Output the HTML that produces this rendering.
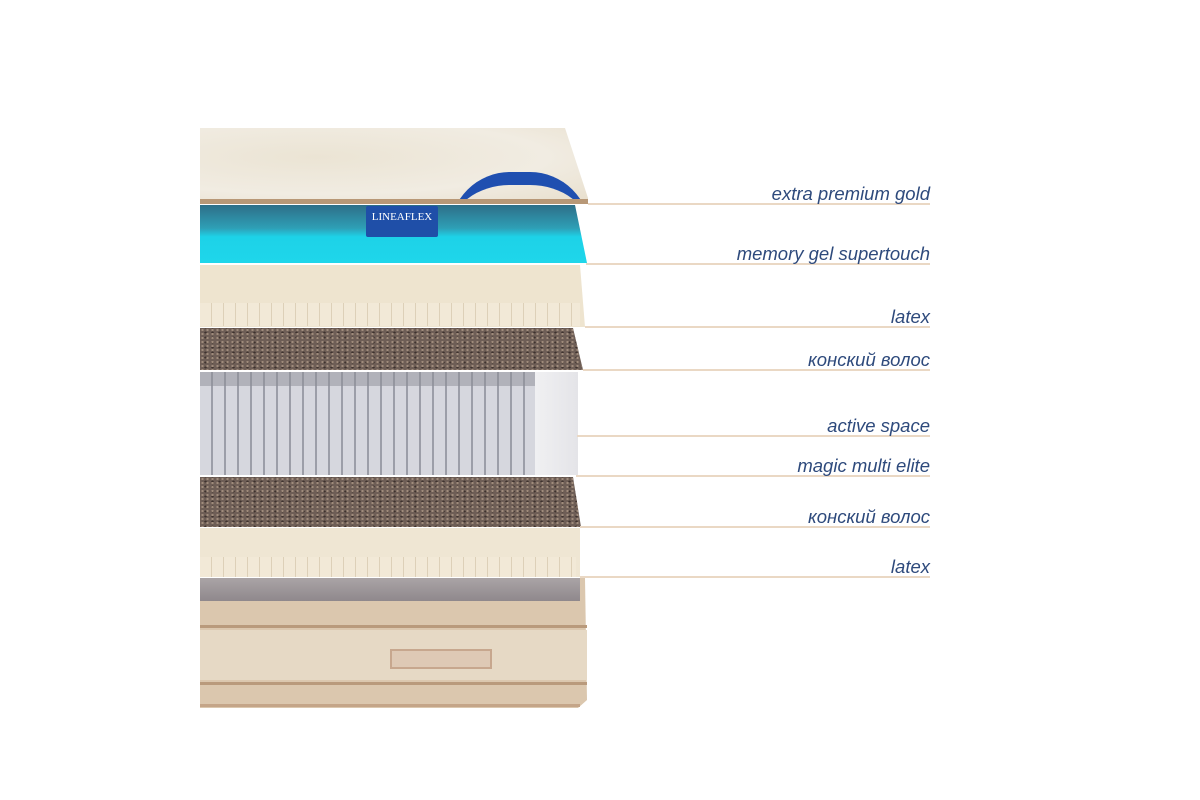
<!DOCTYPE html>
<html><head><meta charset="utf-8"><style>
*{margin:0;padding:0;box-sizing:border-box}
body{width:1200px;height:800px;background:#fff;position:relative;overflow:hidden;font-family:"Liberation Sans",sans-serif}
.a{position:absolute}
.ln{position:absolute;height:2px;background:#ead8c4;right:270px}
.lb{position:absolute;right:270px;font-style:italic;font-size:18.5px;color:#2e4a7c;white-space:nowrap;line-height:20px}
.hair{background-color:#6e5e56;background-image:radial-gradient(#a08c7c 1px,transparent 1.5px),radial-gradient(#3e322e 1px,transparent 1.5px);background-size:5px 4px,7px 5px;background-position:0 0,2px 2px}
.ribs{background:repeating-linear-gradient(90deg,#f2e9d7 0 11px,#ddd0b8 11px 12px)}
</style></head><body>
<!-- top quilt -->
<div class="a" style="left:200px;top:128px;width:388px;height:73px;background:radial-gradient(ellipse at 30% 40%,#ebe4d4,#f1ece2 60%,#e8dfcd);clip-path:polygon(0 0,365px 0,388px 70px,388px 73px,0 73px)"></div>
<div class="a" style="left:200px;top:199px;width:388px;height:5px;background:#b89877"></div>
<div class="a" style="left:450px;top:172px;width:140px;height:60px;border-radius:75px 75px 0 0;border-top:13px solid #1f4fb0;clip-path:polygon(0 0,100% 0,100% 27px,0 27px)"></div>
<!-- gel -->
<div class="a" style="left:200px;top:205px;width:387px;height:58px;background:linear-gradient(180deg,#2e6f88 0%,#2e9fb6 40%,#1dd2e8 55%,#1fd6ea 100%);clip-path:polygon(0 0,375px 0,387px 58px,0 58px)"></div>
<div class="a" style="left:366px;top:206px;width:72px;height:31px;background:#1f4fa8;color:#fff;font-family:'Liberation Serif',serif;font-size:11px;text-align:center;line-height:22px;border-radius:2px">LINEAFLEX</div>
<!-- latex -->
<div class="a" style="left:200px;top:265px;width:385px;height:62px;background:#eee4cf;clip-path:polygon(0 0,380px 0,385px 62px,0 62px)"></div>
<div class="a ribs" style="left:200px;top:303px;width:380px;height:23px"></div>
<!-- horsehair -->
<div class="a hair" style="left:200px;top:328px;width:383px;height:42px;clip-path:polygon(0 0,373px 0,383px 42px,0 42px)"></div>
<!-- springs -->
<div class="a" style="left:200px;top:372px;width:335px;height:103px;background:repeating-linear-gradient(90deg,#d6d7de 0 11px,#9c9ea8 11px 13px),#cfd0d8"></div>
<div class="a" style="left:200px;top:372px;width:335px;height:14px;background:#8c8d96;opacity:.5"></div>
<div class="a" style="left:535px;top:372px;width:43px;height:103px;background:linear-gradient(90deg,#f0f0f2,#e4e4e8)"></div>
<!-- horsehair 2 -->
<div class="a hair" style="left:200px;top:477px;width:581px;height:50px;clip-path:polygon(0 0,373px 0,381px 50px,0 50px)"></div>
<!-- latex 2 -->
<div class="a" style="left:200px;top:528px;width:380px;height:49px;background:#efe6d3"></div>
<div class="a ribs" style="left:200px;top:557px;width:376px;height:20px"></div>
<!-- base -->
<div class="a" style="left:200px;top:578px;width:387px;height:130px;background:#dbc7ae;clip-path:polygon(0 0,385px 0,387px 122px,378px 130px,0 130px)"></div>
<div class="a" style="left:200px;top:578px;width:380px;height:23px;background:linear-gradient(180deg,#aaa4a6,#8f888c)"></div>
<div class="a" style="left:200px;top:625px;width:387px;height:3px;background:#b99a7c"></div>
<div class="a" style="left:200px;top:630px;width:387px;height:50px;background:#e6d9c5"></div>
<div class="a" style="left:390px;top:649px;width:102px;height:20px;border:2px solid #c7a78e;background:#dec9b5"></div>
<div class="a" style="left:200px;top:682px;width:387px;height:3px;background:#b99a7c"></div>
<div class="a" style="left:200px;top:704px;width:380px;height:3px;background:#c4a588"></div>
<!-- lines -->
<div class="ln" style="top:203px;left:588px"></div>
<div class="ln" style="top:263px;left:586px"></div>
<div class="ln" style="top:326px;left:585px"></div>
<div class="ln" style="top:369px;left:583px"></div>
<div class="ln" style="top:435px;left:577px"></div>
<div class="ln" style="top:475px;left:576px"></div>
<div class="ln" style="top:526px;left:580px"></div>
<div class="ln" style="top:576px;left:580px"></div>
<!-- labels -->
<div class="lb" style="top:184px">extra premium gold</div>
<div class="lb" style="top:244px">memory gel supertouch</div>
<div class="lb" style="top:307px">latex</div>
<div class="lb" style="top:350px">конский волос</div>
<div class="lb" style="top:416px">active space</div>
<div class="lb" style="top:456px">magic multi elite</div>
<div class="lb" style="top:507px">конский волос</div>
<div class="lb" style="top:557px">latex</div>
</body></html>
